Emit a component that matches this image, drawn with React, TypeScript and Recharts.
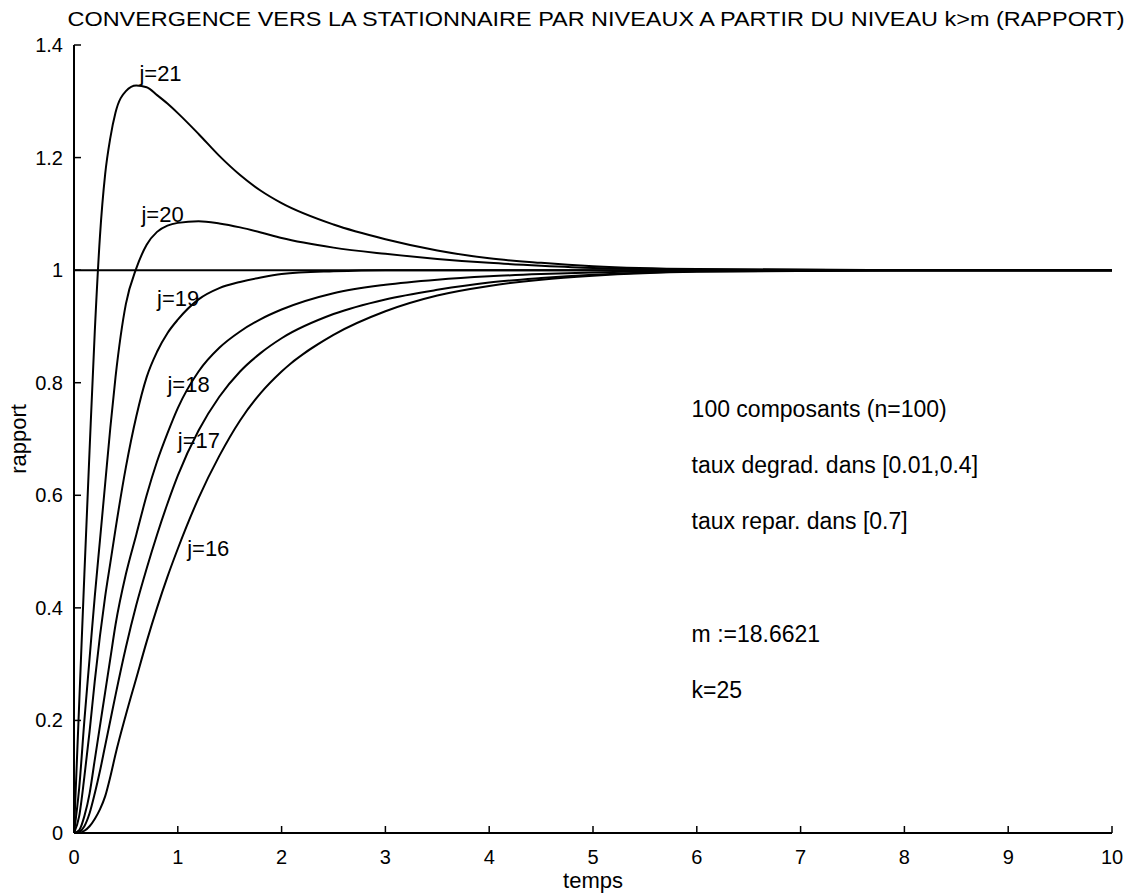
import { LineChart, Line, XAxis, YAxis, ReferenceDot } from "recharts";

const xTicks = [0, 1, 2, 3, 4, 5, 6, 7, 8, 9, 10];
const yTicks = [0, 0.2, 0.4, 0.6, 0.8, 1, 1.2, 1.4];

// temps grid, and the ratio of each level
const temps = [
  0, 0.05, 0.1, 0.15, 0.2, 0.25, 0.3, 0.35, 0.4, 0.5, 0.6, 0.7, 0.8, 0.9, 1.0,
  1.2, 1.4, 1.6, 1.8, 2.0, 2.5, 3.0, 3.5, 4.0, 4.5, 5.0, 6.0, 8.0, 10,
];
const j21 = [
  0, 0.23, 0.46, 0.68, 0.89, 1.06, 1.17, 1.235, 1.28, 1.318, 1.328, 1.325, 1.311,
  1.296, 1.279, 1.242, 1.203, 1.169, 1.141, 1.119, 1.081, 1.055, 1.035, 1.021,
  1.013, 1.007, 1.002, 1.0, 1.0,
];
const j20 = [
  0, 0.08, 0.2, 0.31, 0.42, 0.52, 0.62, 0.72, 0.81, 0.94, 1.003, 1.045, 1.068,
  1.079, 1.084, 1.087, 1.083, 1.076, 1.067, 1.057, 1.04, 1.029, 1.02, 1.013,
  1.008, 1.004, 1.001, 1.0, 1.0,
];
const j19 = [
  0, 0.03, 0.1, 0.18, 0.27, 0.35, 0.42, 0.48, 0.54, 0.65, 0.74, 0.81, 0.855,
  0.888, 0.912, 0.948, 0.968, 0.979, 0.987, 0.993, 0.998, 1.0, 1.0, 1.0, 1.0,
  1.0, 1.0, 1.0, 1.0,
];
const j18 = [
  0, 0.005, 0.03, 0.07, 0.13, 0.19, 0.25, 0.31, 0.37, 0.46, 0.53, 0.6, 0.66,
  0.71, 0.755, 0.82, 0.862, 0.891, 0.913, 0.93, 0.959, 0.974, 0.983, 0.989,
  0.993, 0.996, 0.999, 1.0, 1.0,
];
const j17 = [
  0, 0.002, 0.012, 0.035, 0.07, 0.11, 0.155, 0.2, 0.245, 0.33, 0.405, 0.47,
  0.53, 0.585, 0.635, 0.715, 0.775, 0.82, 0.853, 0.879, 0.922, 0.948, 0.965,
  0.978, 0.986, 0.992, 0.998, 1.0, 1.0,
];
const j16 = [
  0, 0.0, 0.004, 0.012, 0.025, 0.042, 0.065, 0.1, 0.14, 0.21, 0.275, 0.34, 0.4,
  0.455, 0.505, 0.595, 0.67, 0.733, 0.782, 0.82, 0.885, 0.927, 0.955, 0.972,
  0.983, 0.99, 0.997, 1.0, 1.0,
];
const stationnaire = temps.map(() => 1);

const series = [
  { key: "j21", values: j21 },
  { key: "j20", values: j20 },
  { key: "j19", values: j19 },
  { key: "j18", values: j18 },
  { key: "j17", values: j17 },
  { key: "j16", values: j16 },
  { key: "stat", values: stationnaire },
];

const rows = temps.map((t, i) => {
  const r: Record<string, number> = { t };
  series.forEach((s) => (r[s.key] = s.values[i]));
  return r;
});

// curve labels, in data coordinates (left edge, middle)
const curveLabels: [string, number, number][] = [
  ["j=21", 0.63, 1.35],
  ["j=20", 0.65, 1.098],
  ["j=19", 0.8, 0.95],
  ["j=18", 0.9, 0.796],
  ["j=17", 1.0, 0.698],
  ["j=16", 1.09, 0.506],
];

const notes: [string, number, number][] = [
  ["100 composants (n=100)", 5.95, 0.753],
  ["taux degrad. dans [0.01,0.4]", 5.95, 0.654],
  ["taux repar. dans [0.7]", 5.95, 0.554],
  ["m :=18.6621", 5.95, 0.353],
  ["k=25", 5.95, 0.254],
];

const title =
  "CONVERGENCE VERS LA STATIONNAIRE PAR NIVEAUX A PARTIR DU NIVEAU k>m (RAPPORT)";

const FONT = "'Liberation Sans', Arial, Helvetica, sans-serif";

const BottomTick = (p: any) => (
  <g>
    <line x1={p.x} x2={p.x} y1={p.y} y2={p.y - 7} stroke="#000" strokeWidth={1.5} />
    <text x={p.x} y={p.y + 31} textAnchor="middle" fontSize={20} fontFamily={FONT} fill="#000">
      {p.payload.value}
    </text>
  </g>
);
const TopTick = (p: any) => (
  <line x1={p.x} x2={p.x} y1={p.y} y2={p.y + 7} stroke="#000" strokeWidth={1.5} />
);
const LeftTick = (p: any) => (
  <g>
    <line x1={p.x} x2={p.x + 7} y1={p.y} y2={p.y} stroke="#000" strokeWidth={1.5} />
    <text x={p.x - 11} y={p.y} textAnchor="end" dominantBaseline="central" fontSize={20} fontFamily={FONT} fill="#000">
      {p.payload.value}
    </text>
  </g>
);
const RightTick = (p: any) => (
  <line x1={p.x} x2={p.x - 7} y1={p.y} y2={p.y} stroke="#000" strokeWidth={1.5} />
);

const textDot = (s: string, size: number) => (p: any) => (
  <text x={p.cx} y={p.cy} dominantBaseline="central" fontSize={size} fontFamily={FONT} fill="#000">
    {s}
  </text>
);

export default function App() {
  return (
    <div style={{ position: "absolute", left: 0, top: 0, width: 1130, height: 894, background: "#fff" }}>
      <svg width={1130} height={40} style={{ position: "absolute", left: 0, top: 0 }}>
        <text
          x={596}
          y={26}
          textAnchor="middle"
          fontSize={21}
          fontFamily={FONT}
          fill="#000"
          textLength={1057}
          lengthAdjust="spacingAndGlyphs"
        >
          {title}
        </text>
      </svg>
      <LineChart
        width={1130}
        height={894}
        data={rows}
        margin={{ top: 45, right: 18, bottom: 0, left: 0 }}
        style={{ position: "absolute", left: 0, top: 0 }}
      >
        <XAxis
          dataKey="t"
          type="number"
          domain={[0, 10]}
          ticks={xTicks}
          height={61}
          tickSize={0}
          tickMargin={0}
          tick={BottomTick}
          axisLine={{ stroke: "#000", strokeWidth: 2 }}
          label={{
            content: (p: any) => (
              <text x={p.viewBox.x + p.viewBox.width / 2} y={p.viewBox.y + 55} textAnchor="middle" fontSize={22} fontFamily={FONT} fill="#000">
                temps
              </text>
            ),
          }}
        />
        <XAxis
          xAxisId="top"
          orientation="top"
          dataKey="t"
          type="number"
          domain={[0, 10]}
          ticks={xTicks}
          height={0}
          tickSize={0}
          tickMargin={0}
          tick={TopTick}
          axisLine={{ stroke: "#000", strokeWidth: 2 }}
        />
        <YAxis
          type="number"
          domain={[0, 1.4]}
          ticks={yTicks}
          width={74}
          tickSize={0}
          tickMargin={0}
          tick={LeftTick}
          axisLine={{ stroke: "#000", strokeWidth: 2 }}
          label={{
            content: (p: any) => (
              <text
                transform={`translate(${p.viewBox.x + 18},${p.viewBox.y + p.viewBox.height / 2}) rotate(-90)`}
                textAnchor="middle"
                dominantBaseline="central"
                fontSize={22}
                fontFamily={FONT}
                fill="#000"
              >
                rapport
              </text>
            ),
          }}
        />
        <YAxis
          yAxisId="right"
          orientation="right"
          type="number"
          domain={[0, 1.4]}
          ticks={yTicks}
          width={0}
          tickSize={0}
          tickMargin={0}
          tick={RightTick}
          axisLine={{ stroke: "#000", strokeWidth: 2 }}
        />
        {series.map((s) => (
          <Line
            key={s.key}
            dataKey={s.key}
            xAxisId={s.key === "stat" ? "top" : 0}
            yAxisId={s.key === "stat" ? "right" : 0}
            type={s.key === "stat" ? "linear" : "monotone"}
            stroke="#000"
            strokeWidth={2}
            dot={false}
            isAnimationActive={false}
          />
        ))}
        {curveLabels.map(([s, t, v]) => (
          <ReferenceDot key={s} x={t} y={v} r={0} ifOverflow="visible" shape={textDot(s, 22)} />
        ))}
        {notes.map(([s, t, v]) => (
          <ReferenceDot key={s} x={t} y={v} r={0} ifOverflow="visible" shape={textDot(s, 23)} />
        ))}
      </LineChart>
    </div>
  );
}
